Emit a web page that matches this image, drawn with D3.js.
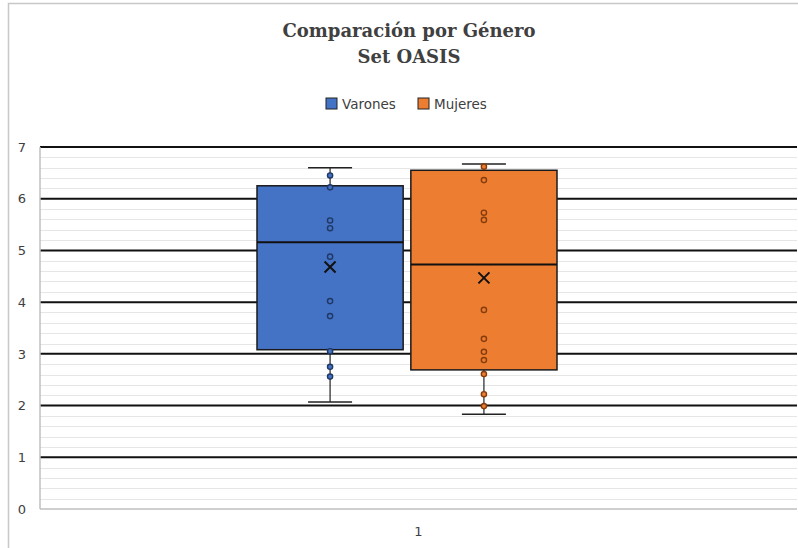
<!DOCTYPE html>
<html><head><meta charset="utf-8">
<script src="https://cdn.jsdelivr.net/npm/d3@7"></script>
<style>body{margin:0;background:#fff}svg{display:block}</style>
</head><body>
<svg id="c" width="798" height="548"></svg>
<script>
const categories = ["1"];
const seriesNames = ["Varones", "Mujeres"];
const seriesColors = ["#4472C4", "#ED7D31"];
const dotColors = ["#1F3864", "#843C0C"];
// box stats: [whiskerLow, q1, median, q3, whiskerHigh, mean]
const varonesStats = [2.07, 3.08, 5.16, 6.25, 6.60, 4.68];
const mujeresStats = [1.83, 2.69, 4.73, 6.55, 6.67, 4.47];
const varonesPoints = [6.45, 6.22, 5.58, 5.43, 4.88, 4.02, 3.73, 3.05, 2.75, 2.56];
const mujeresPoints = [6.62, 6.36, 5.73, 5.59, 3.85, 3.29, 3.04, 2.88, 2.61, 2.22, 1.99];
const yTicks = [0, 1, 2, 3, 4, 5, 6, 7];

const svg = d3.select("#c");
// outer frame
svg.append("rect").attr("x", 8.5).attr("y", 3.5).attr("width", 800).attr("height", 560)
  .attr("fill", "none").attr("stroke", "#c8c8c8").attr("stroke-width", 1.5);

const pLeft = 40, pRight = 797, pTop = 147, pBottom = 509;
const y = d3.scaleLinear().domain([0, 7]).range([pBottom, pTop]);
const x = d3.scaleBand().domain(categories).range([pLeft, pRight]);
const xs = d3.scaleBand().domain(seriesNames).range([x("1") + 217, x("1") + 517]).paddingInner(0.05);

// minor gridlines
const minor = d3.range(0, 7.0001, 0.2).filter(v => Math.abs(v - Math.round(v)) > 1e-6);
svg.append("g").selectAll("line").data(minor).join("line")
  .attr("x1", pLeft).attr("x2", pRight).attr("y1", d => Math.round(y(d)) + 0.5).attr("y2", d => Math.round(y(d)) + 0.5)
  .attr("stroke", "#e6e6e6").attr("stroke-width", 1);

// major gridlines
svg.append("g").selectAll("line").data(yTicks.filter(d => d > 0)).join("line")
  .attr("x1", pLeft).attr("x2", pRight).attr("y1", d => y(d)).attr("y2", d => y(d))
  .attr("stroke", "#111").attr("stroke-width", 2);

// axes lines
svg.append("line").attr("x1", pLeft).attr("x2", pRight).attr("y1", pBottom).attr("y2", pBottom)
  .attr("stroke", "#bfbfbf").attr("stroke-width", 1.5);
svg.append("line").attr("x1", pLeft).attr("x2", pLeft).attr("y1", pTop).attr("y2", pBottom)
  .attr("stroke", "#bfbfbf").attr("stroke-width", 1.5);

// y labels
const yAxis = d3.axisLeft(y).tickValues(yTicks).tickFormat(d3.format("d")).tickSize(0).tickPadding(14);
const ga = svg.append("g").attr("transform", `translate(${pLeft},0)`).call(yAxis);
ga.select(".domain").remove();
ga.selectAll("text").attr("font-family", "DejaVu Sans, sans-serif").attr("font-size", 13).attr("fill", "#404040");

// x label
const xAxis = d3.axisBottom(x).tickSize(0).tickPadding(18);
const gx = svg.append("g").attr("transform", `translate(0,${pBottom})`).call(xAxis);
gx.select(".domain").remove();
gx.selectAll("text").attr("font-family", "DejaVu Sans, sans-serif").attr("font-size", 13).attr("fill", "#404040");

const allStats = [varonesStats, mujeresStats];
const allPoints = [varonesPoints, mujeresPoints];
seriesNames.forEach((name, i) => {
  const s = allStats[i];
  const bx = xs(name), bw = xs.bandwidth(), cx = bx + bw / 2;
  const g = svg.append("g");
  // whiskers
  g.append("line").attr("x1", cx).attr("x2", cx).attr("y1", y(s[0])).attr("y2", y(s[1])).attr("stroke", "#222").attr("stroke-width", 1.2);
  g.append("line").attr("x1", cx).attr("x2", cx).attr("y1", y(s[3])).attr("y2", y(s[4])).attr("stroke", "#222").attr("stroke-width", 1.2);
  [s[0], s[4]].forEach(v => g.append("line").attr("x1", cx - 22).attr("x2", cx + 22).attr("y1", y(v)).attr("y2", y(v)).attr("stroke", "#222").attr("stroke-width", 1.5));
  // box
  g.append("rect").attr("x", bx).attr("y", y(s[3])).attr("width", bw).attr("height", y(s[1]) - y(s[3]))
    .attr("fill", seriesColors[i]).attr("stroke", "#1a1a1a").attr("stroke-width", 1.5);
  // median
  g.append("line").attr("x1", bx).attr("x2", bx + bw).attr("y1", y(s[2])).attr("y2", y(s[2])).attr("stroke", "#111").attr("stroke-width", 2);
  // points
  g.selectAll("circle").data(allPoints[i]).join("circle")
    .attr("cx", cx).attr("cy", d => y(d)).attr("r", 2.6)
    .attr("fill", seriesColors[i]).attr("stroke", dotColors[i]).attr("stroke-width", 1.4);
  // mean X
  const my = y(s[5]), m = 5.5;
  g.append("path").attr("d", `M${cx - m},${my - m}L${cx + m},${my + m}M${cx - m},${my + m}L${cx + m},${my - m}`)
    .attr("stroke", "#111").attr("stroke-width", 2).attr("fill", "none");
});

// title
const title = svg.append("text").attr("text-anchor", "middle").attr("font-family", "DejaVu Serif, serif")
  .attr("font-weight", "bold").attr("font-size", 18).attr("fill", "#404040");
title.append("tspan").attr("x", 409).attr("y", 37).text("Comparación por Género");
title.append("tspan").attr("x", 409).attr("y", 63).text("Set OASIS");

// legend
const lg = svg.append("g").attr("font-family", "DejaVu Sans, sans-serif").attr("font-size", 13.5).attr("fill", "#404040");
const legX = [326, 418];
seriesNames.forEach((n, i) => {
  lg.append("rect").attr("x", legX[i]).attr("y", 98).attr("width", 11).attr("height", 11)
    .attr("fill", seriesColors[i]).attr("stroke", "#222").attr("stroke-width", 1);
  lg.append("text").attr("x", legX[i] + 16).attr("y", 109).text(n);
});
</script>
</body></html>
